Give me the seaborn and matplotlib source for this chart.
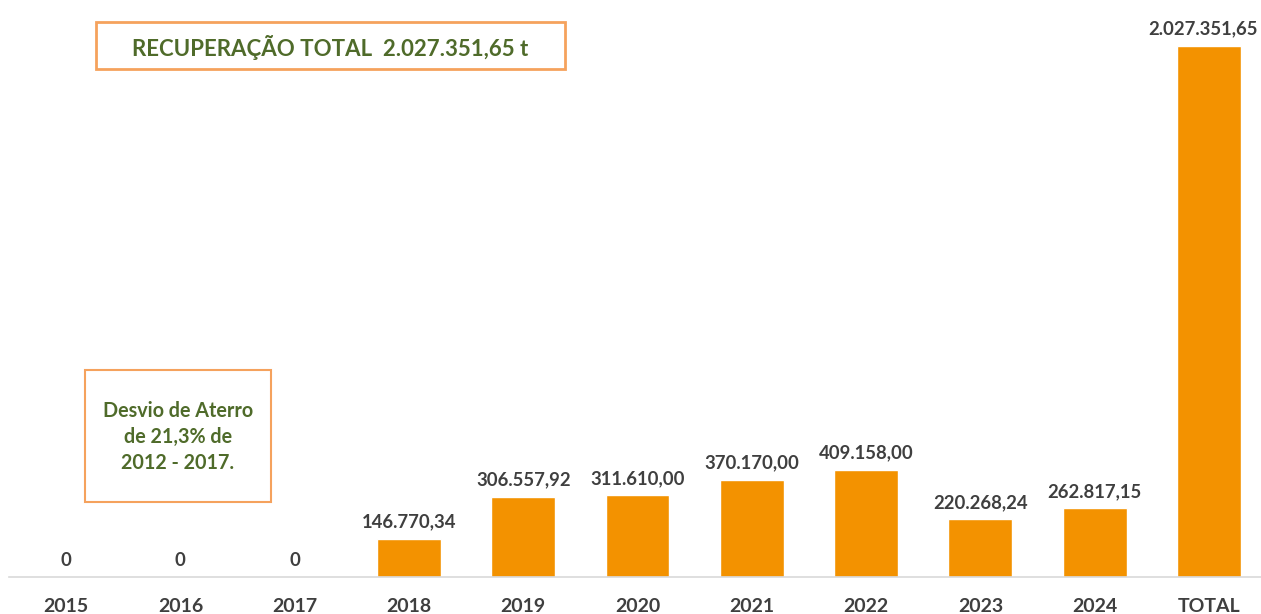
import matplotlib
matplotlib.use("Agg")
import matplotlib.pyplot as plt
import seaborn as sns
from matplotlib.patches import Rectangle

# dados (toneladas recuperadas por ano)
anos = ["2015", "2016", "2017", "2018", "2019", "2020", "2021", "2022", "2023", "2024", "TOTAL"]
recuperacao = [0, 0, 0, 146770.34, 306557.92, 311610.00, 370170.00, 409158.00, 220268.24, 262817.15, 2027351.65]
titulo = "RECUPERAÇÃO TOTAL  2.027.351,65 t"
nota = "Desvio de Aterro\nde 21,3% de\n2012 - 2017."

laranja = "#F39200"
verde = "#4F6B2A"
cinza = "#3F3F3F"
borda = "#F5A25D"


def fmt_br(v):
    # formato brasileiro: 1.234.567,89
    if v == 0:
        return "0"
    s = f"{v:,.2f}"
    return s.replace(",", "X").replace(".", ",").replace("X", ".")


sns.set_theme(style="white")
plt.rcParams['font.family'] = ['Lato', 'DejaVu Sans']

fig = plt.figure(figsize=(12.61, 6.14), dpi=100)
ax = fig.add_axes([9 / 1261, 37 / 614, 1257 / 1261, 577 / 614])

sns.barplot(x=anos, y=recuperacao, color=laranja, saturation=1, width=0.56, ax=ax)

ax.set_ylim(0, 2.203e6)
ax.set_xlim(-0.5, len(anos) - 0.5)
ax.set_yticks([])
ax.set_ylabel("")
for lado in ["top", "left", "right"]:
    ax.spines[lado].set_visible(False)
ax.spines["bottom"].set_color("#D9D9D9")
ax.spines["bottom"].set_linewidth(1.2)
ax.tick_params(axis="x", length=0, pad=15, labelsize=14, labelcolor=cinza)
for t in ax.get_xticklabels():
    t.set_fontweight("bold")

# rótulos de valor (o último encostado à borda direita)
for i, v in enumerate(recuperacao):
    dx = -4 if i == len(recuperacao) - 1 else 0
    ax.annotate(fmt_br(v), (i, v), xytext=(dx, 6), textcoords="offset points",
                ha="center", va="bottom", fontsize=13.3, fontweight="bold",
                color=cinza, annotation_clip=False)

# caixa do título
fig.patches.append(Rectangle((96 / 1261, 1 - 69 / 614), 469 / 1261, 47 / 614,
                             transform=fig.transFigure, fill=False,
                             edgecolor=borda, linewidth=2))
fig.text(330 / 1261, 1 - 47 / 614, titulo, ha="center", va="center",
         fontsize=16, fontweight="bold", color=verde)

# caixa da nota
fig.patches.append(Rectangle((85 / 1261, 1 - 502 / 614), 186 / 1261, 132 / 614,
                             transform=fig.transFigure, fill=False,
                             edgecolor=borda, linewidth=1.5))
fig.text(178 / 1261, 1 - 437 / 614, nota, ha="center", va="center",
         fontsize=14.2, fontweight="bold", color=verde, linespacing=1.4)

fig.savefig("out.png", dpi=100)
